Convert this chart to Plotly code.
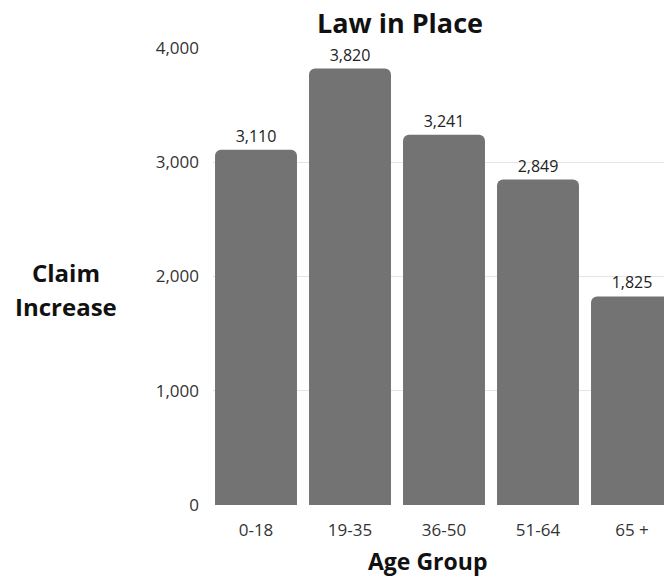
import plotly.graph_objects as go

categories = ["0-18", "19-35", "36-50", "51-64", "65 +"]
values = [3110, 3820, 3241, 2849, 1825]
y_ticks = [0, 1000, 2000, 3000, 4000]
y_tick_labels = ["0", "1,000", "2,000", "3,000", "4,000"]

W, H = 664, 579
L, R, T, B = 213, 0, 48, 74
PW, PH = W - L - R, H - T - B

def px(x):
    return (x - L) / PW

def py(y):
    return (H - B - y) / PH

fig = go.Figure(go.Bar(
    x=list(range(len(categories))),
    y=values,
    marker=dict(color="#737373", cornerradius=6, line=dict(width=0)),
    texttemplate="%{y:,}",
    textposition="outside",
    textfont=dict(family="Open Sans", size=16, color="#222222"),
    cliponaxis=False,
))

title_font = dict(family="Open Sans", color="#111111")

fig.update_layout(
    width=W, height=H,
    margin=dict(l=L, r=R, t=T, b=B, pad=0),
    paper_bgcolor="white", plot_bgcolor="white",
    bargap=0.128,
    showlegend=False,
    font=dict(family="Open Sans", color="#333333"),
    title=dict(text="<b>Law in Place</b>", x=400 / W, xanchor="center",
               y=1 - 24 / H, yanchor="middle",
               font=dict(title_font, size=27)),
    xaxis=dict(
        range=[(L - 256) / 94, (W - 256) / 94],
        tickvals=list(range(len(categories))),
        ticktext=categories,
        showgrid=False, zeroline=False, showline=False,
        tickfont=dict(family="Open Sans", size=17, color="#333333"),
        ticks="outside", ticklen=10, tickcolor="rgba(0,0,0,0)",
    ),
    yaxis=dict(
        range=[0, 4000],
        tickvals=y_ticks, ticktext=y_tick_labels,
        showgrid=True, gridcolor="#e4e4e4", gridwidth=1,
        zeroline=False, showline=False,
        tickfont=dict(family="Open Sans", size=17, color="#333333"),
        ticklabelstandoff=13,
    ),
    annotations=[
        dict(text="<b>Claim</b>", xref="paper", yref="paper",
             x=px(66), y=py(272), xanchor="center", yanchor="middle",
             showarrow=False, font=dict(title_font, size=24)),
        dict(text="<b>Increase</b>", xref="paper", yref="paper",
             x=px(66), y=py(306), xanchor="center", yanchor="middle",
             showarrow=False, font=dict(title_font, size=24)),
        dict(text="<b>Age Group</b>", xref="paper", yref="paper",
             x=px(427), y=py(561), xanchor="center", yanchor="middle",
             showarrow=False, font=dict(title_font, size=23)),
    ],
)

fig.write_html("out.html")
